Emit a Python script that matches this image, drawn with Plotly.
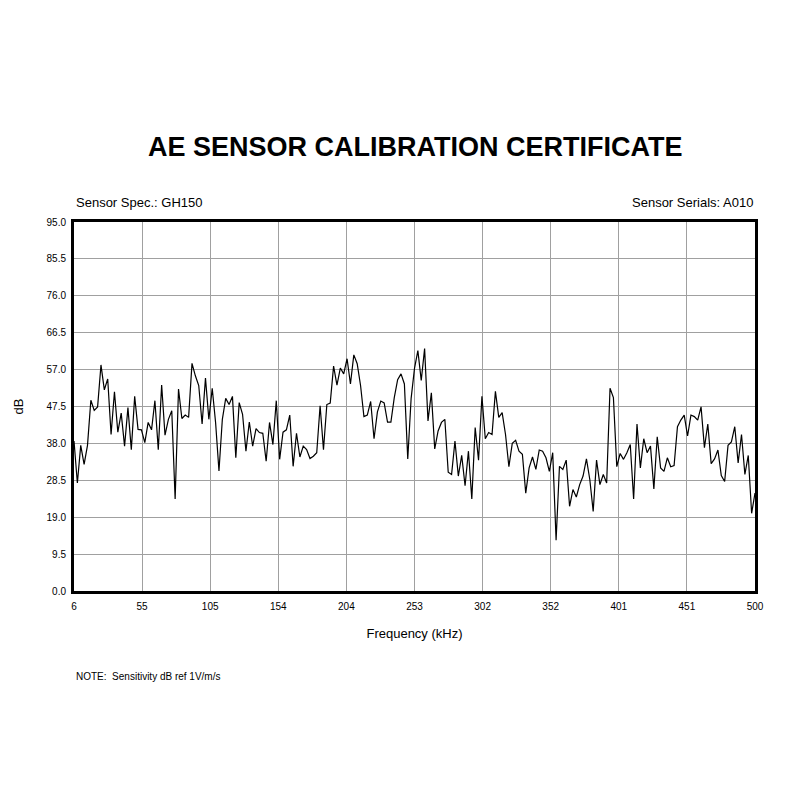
import numpy as np
import plotly.graph_objects as go

db = [38.6, 27.8, 37.5, 32.6, 37.5, 49.1, 46.5, 47.4, 58.2, 51.8, 54.6, 40.3, 51.3, 40.9, 45.8, 37.3,
      47.2, 36.4, 50.1, 41.6, 41.5, 38.2, 43.4, 41.5, 49.0, 36.4, 53.0, 40.1, 44.2, 46.4, 23.7,
      52.0, 44.4, 45.3, 44.7, 58.6, 55.4, 52.9, 43.0, 54.8, 44.2, 52.2, 43.4, 30.9, 44.2, 49.6,
      48.0, 50.1, 34.3, 48.5, 45.5, 36.0, 43.5, 37.3, 41.8, 40.8, 40.6, 33.4, 43.4, 37.7, 49.0,
      33.9, 40.9, 41.5, 45.3, 32.1, 40.6, 34.5, 37.3, 36.4, 34.1, 34.7, 35.6, 47.7, 36.4, 48.0,
      48.4, 57.9, 53.0, 57.4, 55.9, 59.8, 53.3, 60.8, 58.5, 52.9, 44.9, 45.3, 48.8, 39.2, 46.1,
      48.9, 48.4, 43.5, 43.5, 49.8, 54.4, 55.9, 53.3, 34.0, 49.6, 57.3, 61.9, 54.2, 62.4, 43.8,
      51.0, 36.6, 41.2, 43.4, 44.2, 30.6, 30.0, 38.6, 29.6, 34.9, 27.1, 36.0, 23.7, 42.1, 33.7,
      50.1, 39.2, 40.8, 40.3, 51.4, 44.7, 45.9, 40.3, 32.0, 38.0, 38.8, 36.0, 35.2, 25.2, 31.7,
      34.5, 31.3, 36.3, 36.0, 34.3, 30.8, 35.6, 13.1, 32.1, 31.3, 33.7, 21.8, 26.1, 24.2, 27.4,
      29.6, 34.0, 28.7, 20.5, 33.7, 27.4, 30.0, 27.8, 52.2, 49.8, 32.0, 35.4, 33.9, 35.6, 37.7,
      23.7, 43.0, 31.7, 39.2, 35.6, 37.3, 26.3, 39.7, 31.7, 30.8, 34.3, 32.0, 32.3, 42.3, 44.0,
      45.3, 39.9, 45.3, 44.9, 44.0, 47.4, 36.9, 43.0, 32.8, 34.0, 36.3, 29.7, 28.2, 37.5, 38.4,
      42.3, 33.0, 40.3, 30.0, 34.9, 20.0, 25.2]

freq_min, freq_max = 6, 500
freq = np.linspace(freq_min, freq_max, len(db))

x_tickvals = list(np.linspace(freq_min, freq_max, 11))
x_ticktext = ["6", "55", "105", "154", "204", "253", "302", "352", "401", "451", "500"]
y_tickvals = [0, 9.5, 19, 28.5, 38, 47.5, 57, 66.5, 76, 85.5, 95]
y_ticktext = ["0.0", "9.5", "19.0", "28.5", "38.0", "47.5", "57.0", "66.5", "76.0", "85.5", "95.0"]

FONT = "Liberation Sans, Arial, sans-serif"

fig = go.Figure()
fig.add_trace(go.Scatter(x=freq, y=db, mode="lines",
                         line=dict(color="black", width=1.2), hoverinfo="skip"))

fig.update_layout(
    width=800, height=800,
    margin=dict(l=74, r=45, t=222, b=209),
    paper_bgcolor="white", plot_bgcolor="white",
    showlegend=False,
    font=dict(family=FONT, color="black"),
    title=dict(text="<b>AE SENSOR CALIBRATION CERTIFICATE</b>",
               x=0.519, xanchor="center", y=1 - 147 / 800, yanchor="middle",
               font=dict(size=27, family=FONT, color="black")),
    xaxis=dict(range=[freq_min, freq_max], tickvals=x_tickvals, ticktext=x_ticktext,
               showgrid=True, gridcolor="#a0a0a0", gridwidth=1, zeroline=False,
               showline=True, linecolor="black", linewidth=3, mirror=True,
               ticks="", tickfont=dict(size=10, family=FONT), ticklabelstandoff=4,
               title=dict(text="Frequency (kHz)", font=dict(size=13, family=FONT), standoff=18)),
    yaxis=dict(range=[0, 95], tickvals=y_tickvals, ticktext=y_ticktext,
               showgrid=True, gridcolor="#a0a0a0", gridwidth=1, zeroline=False,
               showline=True, linecolor="black", linewidth=3, mirror=True,
               ticks="", tickfont=dict(size=10, family=FONT), ticklabelstandoff=3,
               title=dict(text="dB", font=dict(size=13, family=FONT), standoff=20)),
    annotations=[
        dict(text="Sensor Spec.: GH150", xref="paper", yref="paper", x=0, y=1,
             xanchor="left", yanchor="bottom", yshift=10, showarrow=False,
             font=dict(size=13, family=FONT)),
        dict(text="Sensor Serials: A010", xref="paper", yref="paper", x=1, y=1,
             xanchor="right", yanchor="bottom", yshift=10, showarrow=False,
             font=dict(size=13, family=FONT)),
        dict(text="NOTE:  Sensitivity dB ref 1V/m/s", xref="paper", yref="paper", x=0, y=0,
             xanchor="left", yanchor="middle", yshift=-85, showarrow=False,
             font=dict(size=10, family=FONT)),
    ],
)

fig.write_html("out.html")
